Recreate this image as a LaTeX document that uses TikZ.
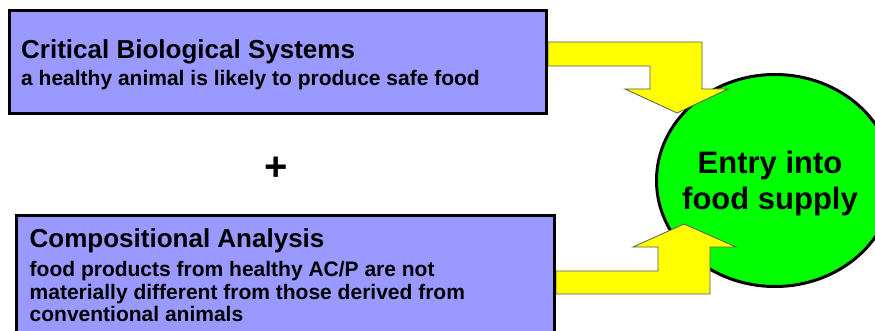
\documentclass[tikz,border=0pt]{standalone}
\usepackage{fontspec}
\setmainfont{Liberation Sans}
\usetikzlibrary{shapes.geometric}
\definecolor{boxblue}{HTML}{9999FF}
\definecolor{arrowyellow}{HTML}{FFFF00}
\definecolor{entrygreen}{HTML}{00FF00}
\begin{document}
\begin{tikzpicture}[x=1pt,y=-1pt,
  box/.style={draw=black,line width=3pt,fill=boxblue},
  blockarrow/.style={draw=black!65,line width=0.8pt,fill=arrowyellow,line join=miter},
  ttl/.style={anchor=base west,inner sep=0pt,font=\fontsize{26}{30}\selectfont\bfseries},
  sub/.style={anchor=base west,inner sep=0pt,font=\fontsize{21}{25}\selectfont\bfseries},
  big/.style={anchor=base,inner sep=0pt,font=\fontsize{31}{36}\selectfont\bfseries}]
\useasboundingbox (0,0) rectangle (875,331);
% entry ellipse
\node[draw=black,line width=3pt,fill=entrygreen,ellipse,minimum width=237pt,minimum height=212pt,inner sep=0pt] (entry) at (775,180.5) {};
\node[big] (e1) at (770,173.5) {Entry into};
\node[big] (e2) at (770,209.5) {food supply};
% block arrows
\draw[blockarrow] (548,42) -- (702,42) -- (702,89) -- (728,89) -- (677,113) -- (625,89) -- (650,89) -- (650,66) -- (548,66) -- cycle;
\draw[blockarrow] (556,271) -- (658,271) -- (658,247) -- (633,247) -- (684,224) -- (736,247) -- (710,247) -- (710,294) -- (556,294) -- cycle;
% boxes
\draw[box] (9.5,10.5) rectangle (546.5,113.5);
\node[ttl] (t1) at (21,58.8) {Critical Biological Systems};
\node[sub] (s1) at (21,85.5) {a healthy animal is likely to produce safe food};
\draw[box] (16.5,215.5) rectangle (554.5,345);
\node[ttl] (t2) at (29.5,247.2) {Compositional Analysis};
\node[sub] (s2a) at (29.5,276.7) {food products from healthy AC/P are not};
\node[sub] (s2b) at (29.5,299) {materially different from those derived from};
\node[sub] (s2c) at (29.5,321) {conventional animals};
% plus
\node[inner sep=0pt,font=\fontsize{40}{40}\selectfont\bfseries] (plus) at (276,168.5) {+};
\end{tikzpicture}
\end{document}
